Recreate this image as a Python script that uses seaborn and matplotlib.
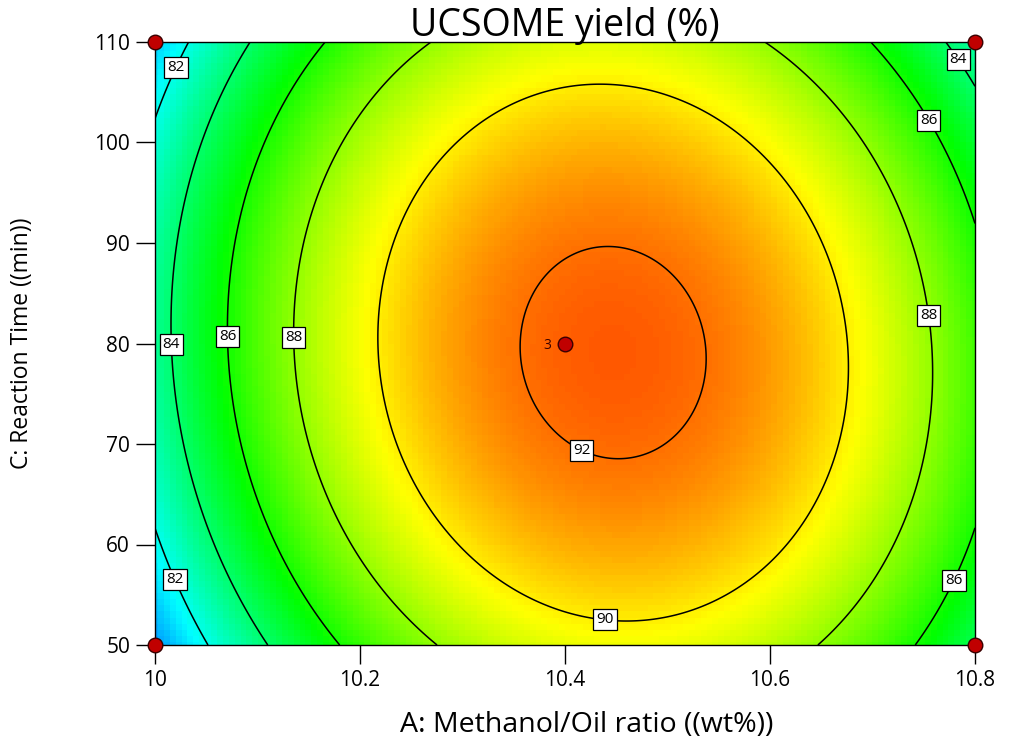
import numpy as np
import pandas as pd
import matplotlib
matplotlib.use("Agg")
import matplotlib.pyplot as plt
from matplotlib.colors import LinearSegmentedColormap
import seaborn as sns

# Factor ranges in actual units
methanol_range = [10.0, 10.8]   # A: Methanol/Oil ratio (wt%)
time_range = [50.0, 110.0]      # C: Reaction Time (min)

# Quadratic response-surface model in coded factors
model_terms = ["Intercept", "A", "C", "AC", "A^2", "C^2"]
model_coefs = [92.27, 1.68, -0.12, -0.52, -7.22, -3.00]

contour_levels = [82, 84, 86, 88, 90, 92]

# Design points shown on this slice (replicates at the centre)
design_A = [10.0, 10.0, 10.8, 10.8, 10.4]
design_C = [50.0, 110.0, 50.0, 110.0, 80.0]
design_reps = [1, 1, 1, 1, 3]

# Where the contour values are written
label_A = [10.020, 10.022, 10.015, 10.785, 10.069, 10.756, 10.776, 10.134, 10.756, 10.44, 10.42]
label_C = [107.5, 56.6, 79.9, 108.3, 80.7, 102.3, 56.6, 80.6, 82.8, 53.6, 70.2]

x_ticks = [10.0, 10.2, 10.4, 10.6, 10.8]
x_tick_labels = ["10", "10.2", "10.4", "10.6", "10.8"]
y_ticks = [50, 60, 70, 80, 90, 100, 110]
y_tick_labels = ["50", "60", "70", "80", "90", "100", "110"]


def predict(a, c):
    x1 = (a - 10.4) / 0.4
    x2 = (c - 80.0) / 30.0
    b0, b1, b2, b12, b11, b22 = model_coefs
    return b0 + b1 * x1 + b2 * x2 + b12 * x1 * x2 + b11 * x1 ** 2 + b22 * x2 ** 2


sns.set_theme(style="white")
plt.rcParams["font.family"] = ["Open Sans", "DejaVu Sans"]

fig = plt.figure(figsize=(10.15, 7.4), dpi=100)
ax = fig.add_axes([155 / 1015, 95 / 740, 820 / 1015, 603 / 740])

# Colour field (blue -> cyan -> green -> yellow -> red)
cmap = LinearSegmentedColormap.from_list(
    "de_rainbow",
    [(0.0, "#0000ff"), (0.25, "#00ffff"), (0.5, "#00ff00"), (0.75, "#ffff00"), (1.0, "#ff0000")],
)
ga = np.linspace(methanol_range[0], methanol_range[1], 140)
gc = np.linspace(time_range[0], time_range[1], 100)
GA, GC = np.meshgrid(ga, gc)
ax.pcolormesh(GA, GC, predict(GA, GC), cmap=cmap, vmin=77.6, vmax=93.8,
              shading="nearest", rasterized=True)

# Contour lines
fa = np.linspace(methanol_range[0], methanol_range[1], 400)
fc = np.linspace(time_range[0], time_range[1], 400)
FA, FC = np.meshgrid(fa, fc)
cs = ax.contour(FA, FC, predict(FA, FC), levels=contour_levels,
                colors="black", linewidths=1.1)
labels = ax.clabel(cs, fmt="%d", inline=False, fontsize=11,
                   manual=list(zip(label_A, label_C)))
for t in labels:
    t.set_rotation(0)
    t.set_color("black")
    t.set_bbox(dict(boxstyle="square,pad=0.2", fc="white", ec="black", lw=0.9))

# Design points
pts = pd.DataFrame({"A": design_A, "C": design_C, "reps": design_reps})
sns.scatterplot(data=pts, x="A", y="C", ax=ax, s=110, color="#c00000",
                edgecolor="#3a0000", linewidth=1.0, legend=False, clip_on=False, zorder=5)
for _, r in pts[pts["reps"] > 1].iterrows():
    ax.annotate(str(int(r["reps"])), (r["A"], r["C"]), xytext=(-10, -1.5),
                textcoords="offset points", ha="right", va="center",
                fontsize=10, color="#3a0000")

ax.set_xlim(methanol_range)
ax.set_ylim(time_range)
ax.set_xticks(x_ticks)
ax.set_xticklabels(x_tick_labels)
ax.set_yticks(y_ticks)
ax.set_yticklabels(y_tick_labels)
ax.tick_params(axis="both", direction="out", length=14, width=1, color="black",
               labelsize=15, labelcolor="black", bottom=True, left=True, pad=4)
for s in ax.spines.values():
    s.set_color("black")
    s.set_linewidth(1.0)

ax.set_title("UCSOME yield (%)", fontsize=27, color="black", pad=4)
ax.set_xlabel("A: Methanol/Oil ratio ((wt%))", fontsize=20.5, color="black")
ax.set_ylabel("C: Reaction Time ((min))", fontsize=16.5, color="black")
ax.xaxis.set_label_coords(0.527, -0.11)
ax.yaxis.set_label_coords(-0.147, 0.5)

fig.savefig("out.png", dpi=100)
